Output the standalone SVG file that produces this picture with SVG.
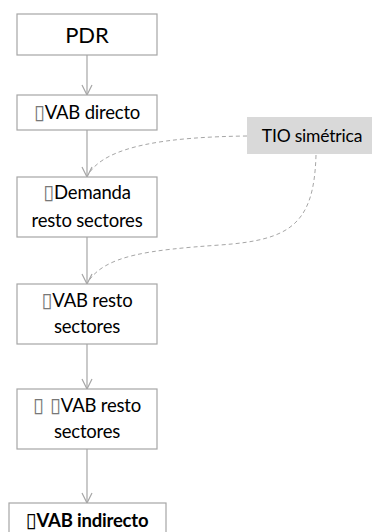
<svg xmlns="http://www.w3.org/2000/svg" width="376" height="532" viewBox="0 0 376 532">
<style>
.box{fill:#fff;stroke:#a6a6a6;stroke-width:1.2}
.t{font-family:Lato,"Open Sans","Liberation Sans",sans-serif;font-size:18.5px;fill:#000;text-anchor:middle;letter-spacing:-0.2px}
.big{font-size:22px;letter-spacing:0}
.tio{font-size:17.5px}
.b{font-weight:bold}
.tf{font-family:"DejaVu Sans",sans-serif;font-size:20px;fill:#777;font-weight:normal}
.b .tf{fill:#000;font-weight:bold}
.ln{fill:none;stroke:#a6a6a6;stroke-width:1.2}
.dash{fill:none;stroke:#a6a6a6;stroke-width:1;stroke-dasharray:4,3}
</style>
<defs>
<marker id="ah" viewBox="0 0 12 12" refX="11" refY="6" markerWidth="12" markerHeight="12" markerUnits="userSpaceOnUse" orient="auto">
<path d="M1,1 L11,6 L1,11" fill="none" stroke="#a6a6a6" stroke-width="1.2"/>
</marker>
</defs>
<rect width="376" height="532" fill="#fff"/>
<g id="connectors">
<line class="ln" x1="87" y1="55" x2="87" y2="95" marker-end="url(#ah)"/>
<line class="ln" x1="87" y1="130" x2="87" y2="177" marker-end="url(#ah)"/>
<line class="ln" x1="87" y1="237" x2="87" y2="284" marker-end="url(#ah)"/>
<line class="ln" x1="87" y1="344" x2="87" y2="389" marker-end="url(#ah)"/>
<line class="ln" x1="87" y1="449" x2="87" y2="503" marker-end="url(#ah)"/>
<path class="dash" d="M247,136 C170,137 105,145 88,175"/>
<path class="dash" d="M316,155 C314,225 290,240 220,245 C150,250 105,255 88,282"/>
</g>
<g id="pdr"><rect class="box" x="17" y="14" width="140" height="41"/><text class="t big" x="87" y="42.5">PDR</text></g>
<g id="vab-directo"><rect class="box" x="17" y="95" width="140" height="35"/><text class="t" x="87" y="119"><tspan class="tf">▯</tspan>VAB directo</text></g>
<g id="tio"><rect x="247" y="117" width="125" height="37" fill="#d9d9d9"/><text class="t tio" x="312" y="141.5">TIO simétrica</text></g>
<g id="demanda"><rect class="box" x="17" y="177" width="140" height="60"/><text class="t" x="87" y="199"><tspan class="tf">▯</tspan>Demanda</text><text class="t" x="87" y="227">resto sectores</text></g>
<g id="vab-resto"><rect class="box" x="17" y="284" width="140" height="60"/><text class="t" x="87" y="307"><tspan class="tf">▯</tspan>VAB resto</text><text class="t" x="87" y="333">sectores</text></g>
<g id="dd-vab-resto"><rect class="box" x="17" y="389" width="140" height="60"/><text class="t" x="87" y="412"><tspan class="tf">▯ ▯</tspan>VAB resto</text><text class="t" x="87" y="438">sectores</text></g>
<g id="vab-indirecto"><rect class="box" x="9" y="503" width="157" height="40"/><text class="t b" x="87" y="527"><tspan class="tf">▯</tspan>VAB indirecto</text></g>
</svg>
